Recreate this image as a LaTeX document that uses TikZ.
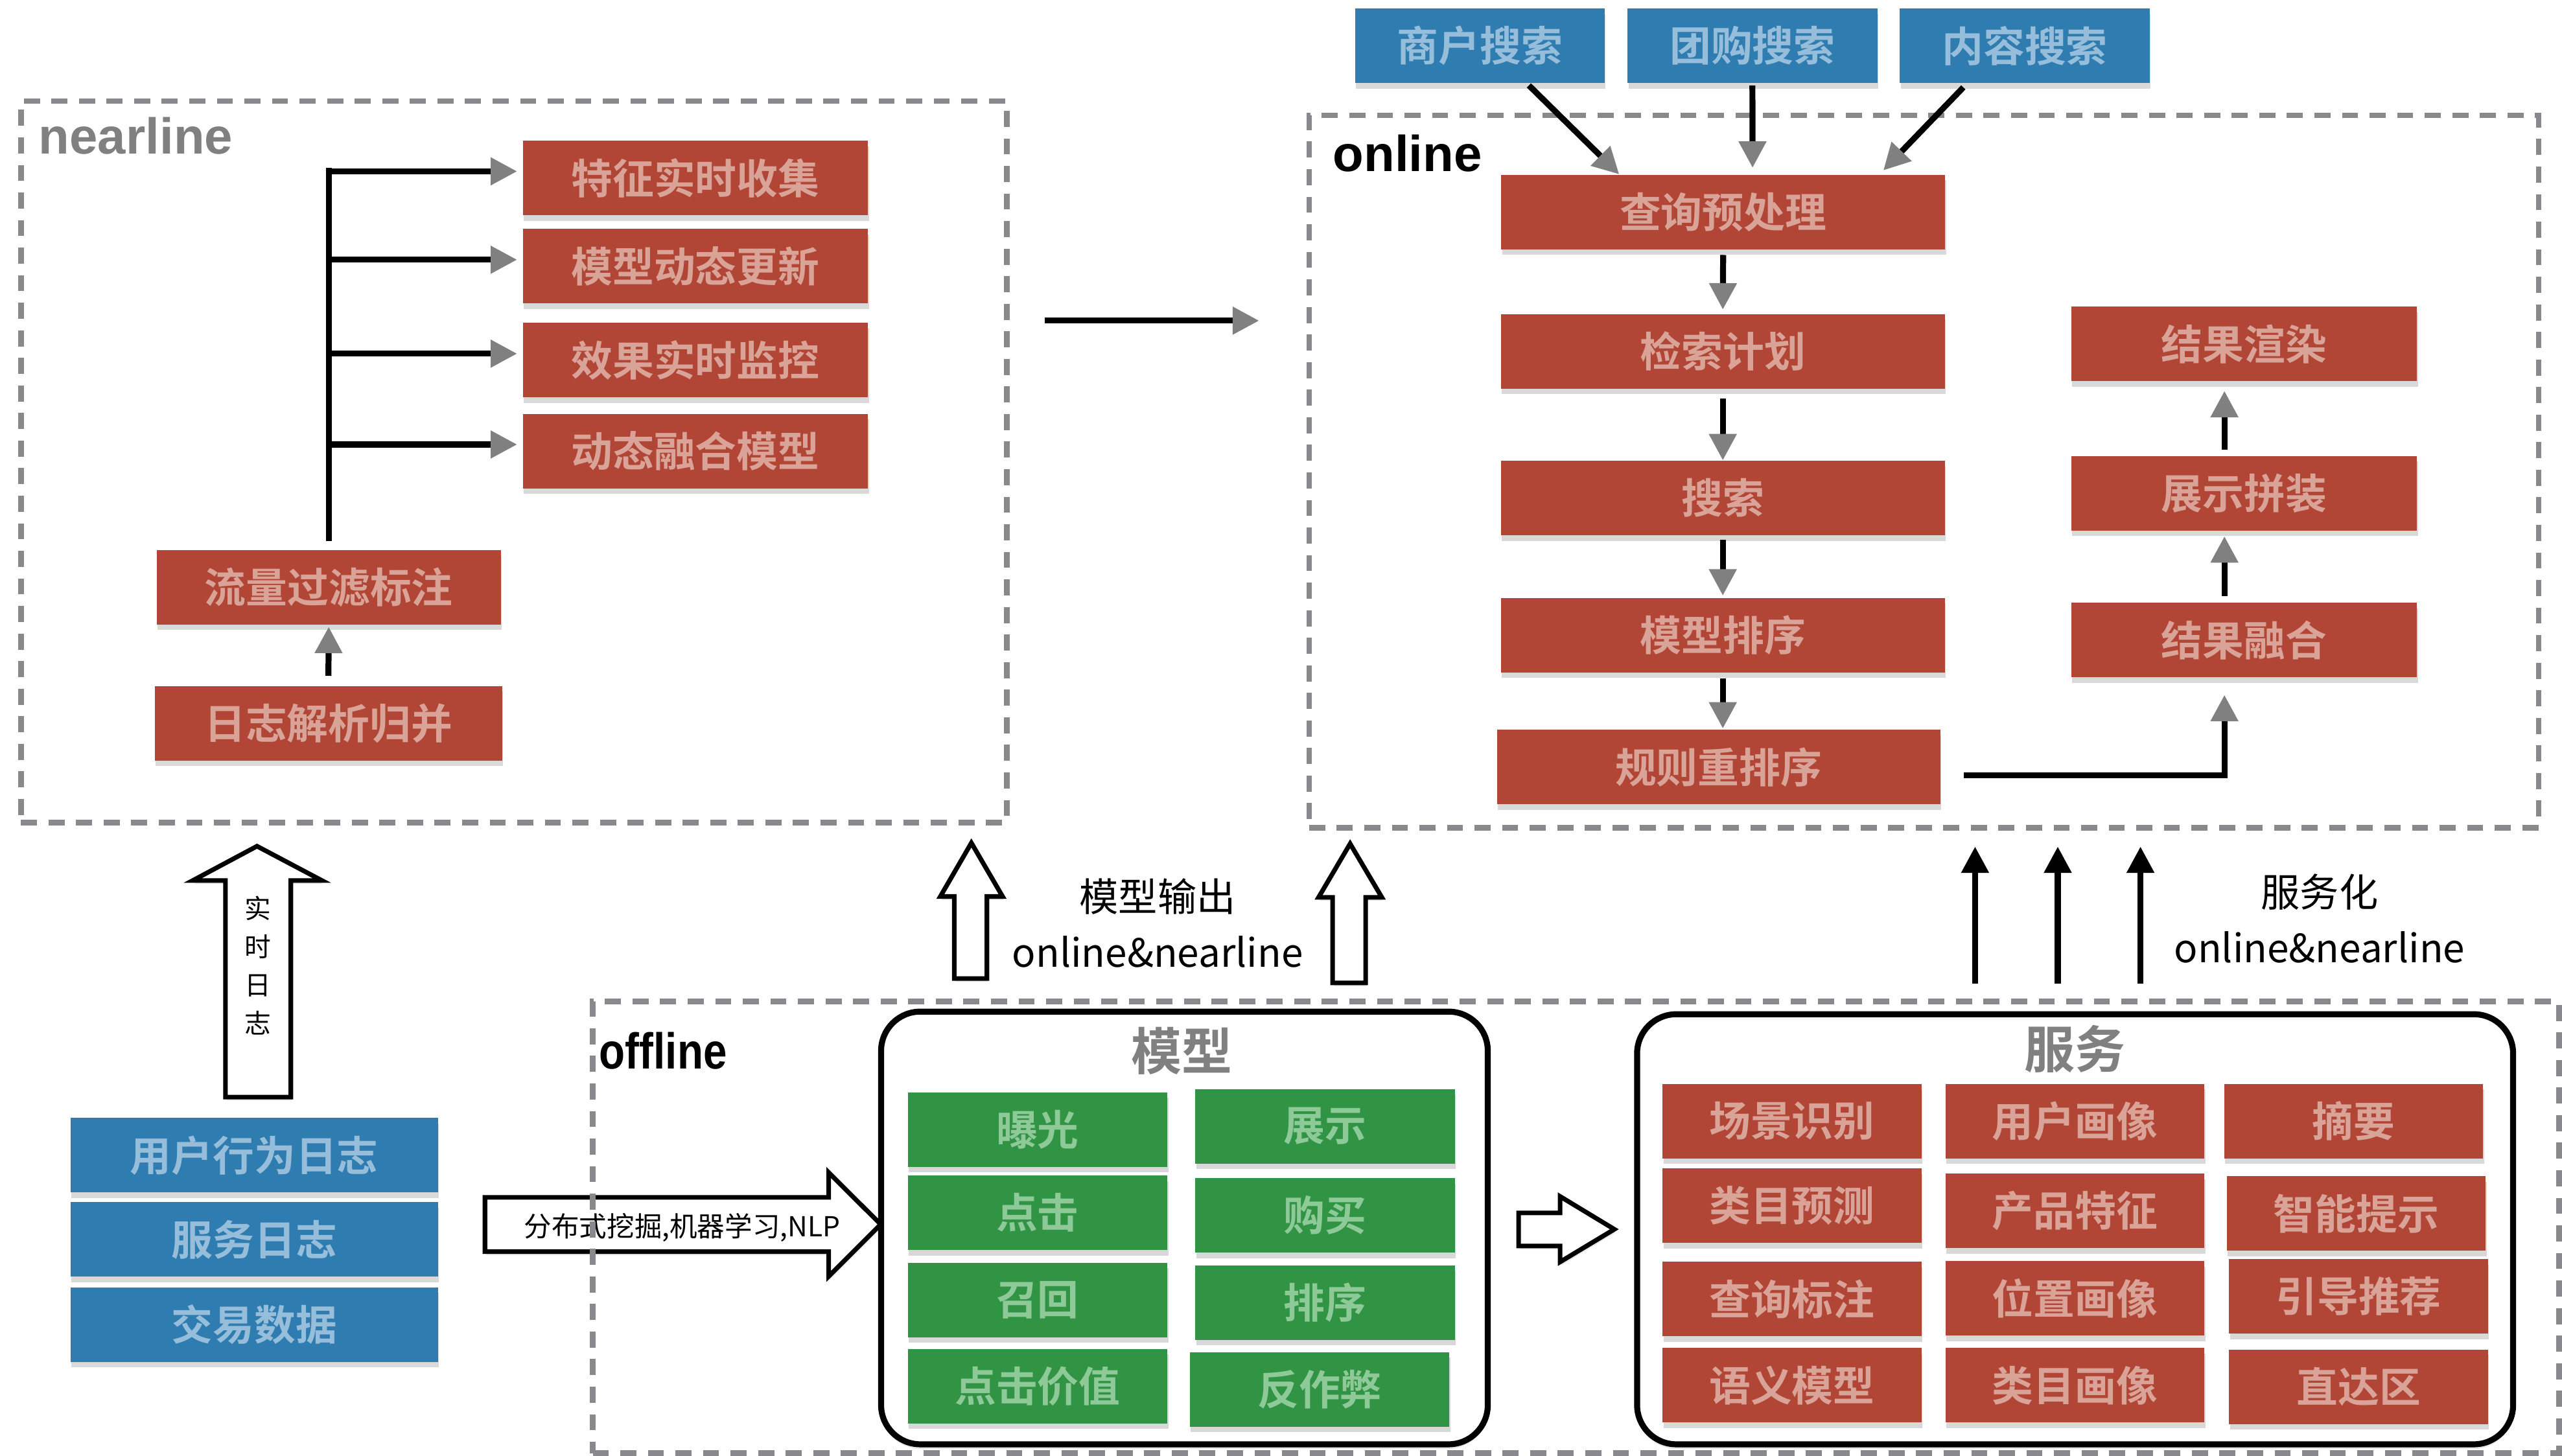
\documentclass[tikz,border=0pt]{standalone}
\usepackage{fontspec}
\setmainfont{Noto Sans CJK SC}[BoldFont={Noto Sans CJK SC Bold}]
\newfontfamily\enfont{Liberation Sans}
\usepackage{tikz}
\usetikzlibrary{positioning,arrows.meta,shadows}

\definecolor{boxred}{RGB}{177,70,54}
\definecolor{redtxt}{RGB}{218,163,152}
\definecolor{boxblue}{RGB}{47,124,177}
\definecolor{bluetxt}{RGB}{150,190,218}
\definecolor{boxgreen}{RGB}{49,148,69}
\definecolor{greentxt}{RGB}{142,201,152}
\definecolor{dashgray}{RGB}{137,137,141}
\definecolor{titlegray}{RGB}{128,128,128}
\definecolor{tipgray}{RGB}{128,128,128}

\tikzset{
  cell/.style={inner sep=0pt, minimum height=1.14cm,
    font=\fontsize{18}{20}\selectfont\bfseries,
    drop shadow={shadow xshift=0.4pt, shadow yshift=-2.4pt, opacity=0.3}},
  redbox/.style={cell, fill=boxred, text=redtxt},
  bluebox/.style={cell, fill=boxblue, text=bluetxt},
  greenbox/.style={cell, fill=boxgreen, text=greentxt, minimum width=3.97cm},
  svcbox/.style={redbox, minimum width=3.96cm},
  tierbox/.style={draw=dashgray, line width=2.4pt, dash pattern=on 7pt off 5pt,
    inner sep=0pt},
  tierlabel/.style={anchor=west, inner sep=0pt,
    font=\enfont\bfseries\fontsize{22}{24}\selectfont},
  grpbox/.style={draw=black, line width=2.6pt, rounded corners=0.6cm, fill=white,
    inner sep=0pt,
    drop shadow={shadow xshift=0pt, shadow yshift=-2pt, opacity=0.2}},
  grptitle/.style={text=titlegray, font=\fontsize{22}{24}\selectfont\bfseries},
  note/.style={font=\fontsize{17}{19}\selectfont},
  flowarr/.style={line width=2.6pt,
    -{Triangle[length=11.5pt, width=11.5pt, color=tipgray]}},
  upflow/.style={line width=2.6pt, -{Triangle[length=11.5pt, width=11.5pt]}},
  hollowarr/.style={draw=black, line width=2pt, fill=white, line join=miter,
    drop shadow={shadow xshift=0.5pt, shadow yshift=-1.5pt, opacity=0.2}}
}

\begin{document}
\begin{tikzpicture}[x=0.025cm, y=-0.025cm]
\useasboundingbox (0,0) rectangle (1568,891);

% block arrows (drawn first, the frames pass over them)
\draw[hollowarr] (138,671.6) -- (138,539) -- (118,539) -- (157.3,518)
  -- (197,539) -- (178,539) -- (178,671.6) -- cycle;
\node[font=\fontsize{11.5}{16.7}\selectfont, align=center] (rtlog) at (158,591)
  {实\\时\\日\\志};

\draw[hollowarr] (296.8,733) -- (507.2,733) -- (507.2,717.8) -- (539,749.5)
  -- (507.2,781.3) -- (507.2,766.2) -- (296.8,766.2) -- cycle;
\node[font=\fontsize{12}{14}\selectfont] (mining) at (417.5,751.5)
  {分布式挖掘,机器学习,NLP};

\draw[hollowarr] (584,599) -- (584,548.8) -- (575.5,548.8) -- (594.5,516)
  -- (613.6,548.8) -- (604,548.8) -- (604,599) -- cycle;
\draw[hollowarr] (815.6,601.7) -- (815.6,549.3) -- (807,549.3) -- (826.3,516.5)
  -- (845.7,549.3) -- (835.8,549.3) -- (835.8,601.7) -- cycle;
\draw[hollowarr] (929.4,742.5) -- (954.8,742.5) -- (954.8,732.4) -- (988,752.5)
  -- (954.8,772.5) -- (954.8,762.7) -- (929.4,762.7) -- cycle;

% tiers
\node[tierbox, minimum width=15.08cm, minimum height=11.04cm] (nearline) at (314.5,282.8) {};
\node[tierbox, minimum width=18.81cm, minimum height=10.9cm] (online) at (1177.5,288.6) {};
\node[tierbox, minimum width=30.08cm, minimum height=6.91cm] (offline) at (964.5,751.3) {};
\node[tierlabel, text=titlegray] (nearlinelbl) at (23.5,83.2) {nearline};
\node[tierlabel] (onlinelbl) at (815.6,93.7) {online};
\node[tierlabel] (offlinelbl) at (366.6,643.4) {\scalebox{0.84}[1]{offline}};

% nearline
\node[redbox, minimum width=5.28cm] (featcollect) at (425.6,108.9) {特征实时收集};
\node[redbox, minimum width=5.28cm] (modelupdate) at (425.6,163) {模型动态更新};
\node[redbox, minimum width=5.28cm] (effectmon) at (425.6,220.5) {效果实时监控};
\node[redbox, minimum width=5.28cm] (fusemodel) at (425.6,276.1) {动态融合模型};
\node[redbox, minimum width=5.26cm] (flowfilter) at (201.2,359.4) {流量过滤标注};
\node[redbox, minimum width=5.31cm] (logparse) at (201,442.8) {日志解析归并};

\draw[line width=2.6pt] ([yshift=0.13cm]flowfilter.north) -- ++(0,5.71cm);
\foreach \b in {featcollect,modelupdate,effectmon,fusemodel}
  \draw[flowarr] ([xshift=-2.97cm,yshift=0.1cm]\b.west) -- ([xshift=-0.08cm,yshift=0.1cm]\b.west);
\draw[flowarr] ([yshift=0.15cm]logparse.north) -- ([yshift=-0.03cm]flowfilter.south);

% nearline to online
\coordinate (nlout) at (639.3,196.3);
\coordinate (onin) at (770.6,196.3);
\draw[flowarr] (nlout) -- (onin);

% online
\node[bluebox, minimum width=3.82cm] (shsearch) at (905.7,28) {商户搜索};
\node[bluebox, minimum width=3.82cm] (tgsearch) at (1072.5,28) {团购搜索};
\node[bluebox, minimum width=3.82cm] (nrsearch) at (1239.2,28) {内容搜索};

\node[redbox, minimum width=6.79cm] (queryprep) at (1054.6,129.8) {查询预处理};
\node[redbox, minimum width=6.79cm] (retplan) at (1054.4,215) {检索计划};
\node[redbox, minimum width=6.79cm] (search) at (1054.4,304.9) {搜索};
\node[redbox, minimum width=6.79cm] (modelrank) at (1054.4,388.9) {模型排序};
\node[redbox, minimum width=6.78cm] (rulererank) at (1051.8,469.5) {规则重排序};
\node[redbox, minimum width=5.29cm] (resrender) at (1373.4,210.6) {结果渲染};
\node[redbox, minimum width=5.29cm] (showasm) at (1373.4,302) {展示拼装};
\node[redbox, minimum width=5.29cm] (resfuse) at (1373.4,391.9) {结果融合};

\draw[flowarr] ([xshift=0.75cm,yshift=-0.03cm]shsearch.south) -- ([xshift=-1.59cm]queryprep.north);
\draw[flowarr] ([yshift=-0.03cm]tgsearch.south) -- ([xshift=0.45cm,yshift=0.1cm]queryprep.north);
\draw[flowarr] ([xshift=-0.94cm,yshift=-0.06cm]nrsearch.south) -- ([xshift=2.45cm,yshift=0.06cm]queryprep.north);

\draw[flowarr] ([yshift=-0.08cm]queryprep.south) -- ([yshift=0.06cm]retplan.north);
\draw[flowarr] ([yshift=-0.15cm]retplan.south) -- (search.north);
\draw[flowarr] ([yshift=-0.06cm]search.south) -- ([yshift=0.03cm]modelrank.north);
\draw[flowarr] ([yshift=-0.08cm]modelrank.south) -- ++(0,-0.77cm);

\draw[flowarr] ([xshift=0.35cm,yshift=-0.13cm]rulererank.east) -| ([xshift=-0.3cm,yshift=-0.26cm]resfuse.south);
\draw[flowarr] ([xshift=-0.3cm,yshift=0.1cm]resfuse.north) -- ([xshift=-0.3cm,yshift=-0.08cm]showasm.south);
\draw[flowarr] ([xshift=-0.3cm,yshift=0.09cm]showasm.north) -- ([xshift=-0.3cm,yshift=-0.14cm]resrender.south);

% offline sources
\node[bluebox, minimum width=5.62cm] (userlog) at (155.6,707.2) {用户行为日志};
\node[bluebox, minimum width=5.62cm] (svclog) at (155.6,758.8) {服务日志};
\node[bluebox, minimum width=5.62cm] (tradedata) at (155.6,810.8) {交易数据};

% model group
\node[grpbox, minimum width=9.28cm, minimum height=6.62cm] (modelgrp) at (724.9,751.7) {};
\node[grptitle] (modeltitle) at (723.5,643.5) {模型};
\node[greenbox] (expose) at (635,691.4) {曝光};
\node[greenbox] (click) at (635,742.4) {点击};
\node[greenbox] (recall) at (635,795.8) {召回};
\node[greenbox] (clickval) at (635,848.6) {点击价值};
\node[greenbox] (display) at (811,689.5) {展示};
\node[greenbox] (purchase) at (811,744) {购买};
\node[greenbox] (ranking) at (811,797.4) {排序};
\node[greenbox] (antispam) at (807.6,850.5) {反作弊};

% service group
\node[grpbox, minimum width=13.4cm, minimum height=6.58cm] (servgrp) at (1270,752.5) {};
\node[grptitle] (servtitle) at (1270,642) {服务};
\node[svcbox] (scene) at (1096.7,686.3) {场景识别};
\node[svcbox] (catpred) at (1096.7,738) {类目预测};
\node[svcbox] (querytag) at (1096.7,795.3) {查询标注};
\node[svcbox] (semantic) at (1096.7,848) {语义模型};
\node[svcbox] (userprof) at (1269.9,686.3) {用户画像};
\node[svcbox] (prodfeat) at (1269.9,741.2) {产品特征};
\node[svcbox] (locprof) at (1269.9,794.8) {位置画像};
\node[svcbox] (catprof) at (1269.9,848) {类目画像};
\node[svcbox] (summary) at (1440.5,686.3) {摘要};
\node[svcbox] (smarthint) at (1442,742.8) {智能提示};
\node[svcbox] (guiderec) at (1443.5,793.6) {引导推荐};
\node[svcbox] (directzone) at (1443.5,849) {直达区};

% outputs
\node[note] (modelout) at (708.5,548.8) {模型输出};
\node[note] (modeloutmode) at (708.5,582.7) {online\&nearline};
\node[note] (servize) at (1419.6,546) {服务化};
\node[note] (servizemode) at (1419.6,580) {online\&nearline};
\foreach \dx in {-1.53,-0.265,1.0}
  \draw[upflow] ([xshift=\dx cm,yshift=0.42cm]servgrp.north) -- ++(0,2.1cm);
\end{tikzpicture}
\end{document}
